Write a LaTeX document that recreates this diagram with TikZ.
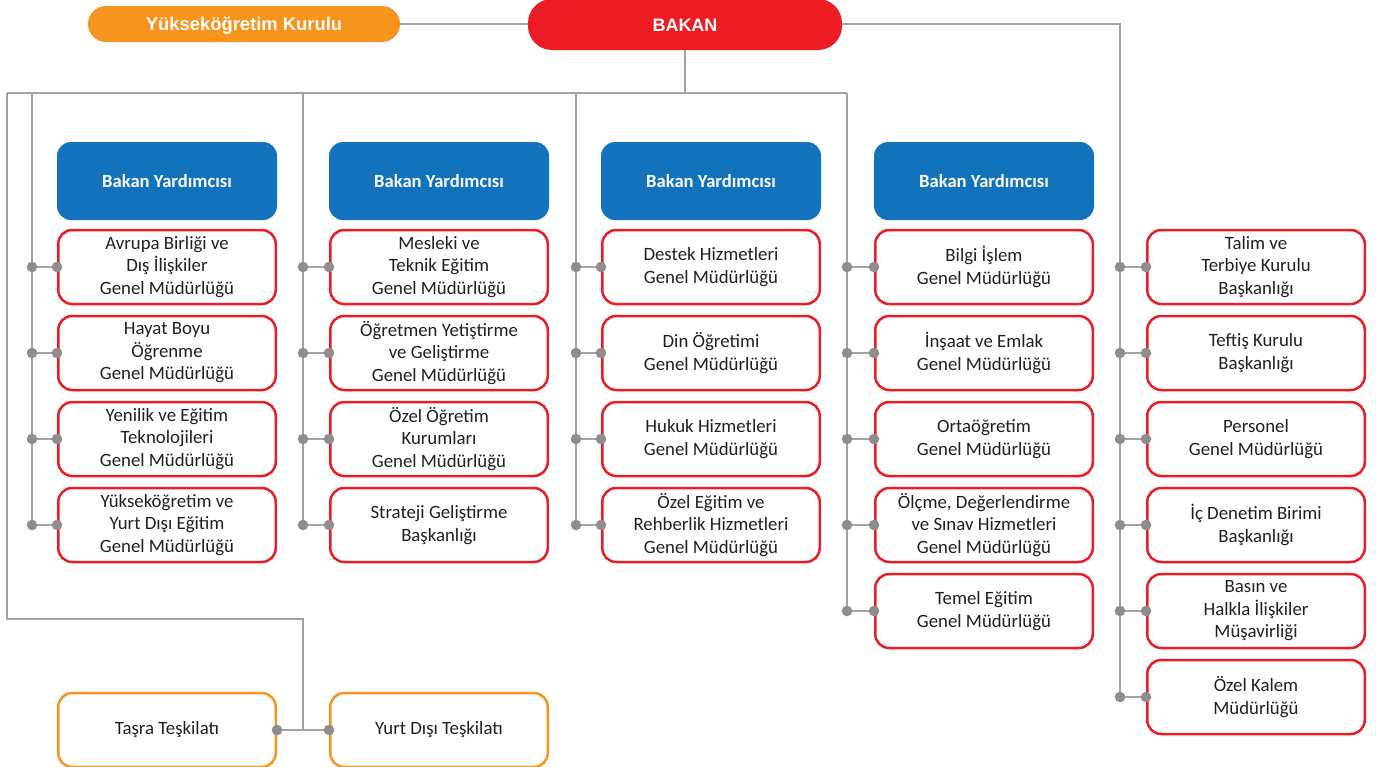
\documentclass[tikz,border=0pt]{standalone}
\usepackage{fontspec}
\setmainfont{Carlito}
\newfontfamily\arialbold[BoldFont={* Bold}]{Liberation Sans}
\definecolor{myred}{HTML}{ED1C24}
\definecolor{myorange}{HTML}{F7941D}
\definecolor{myblue}{HTML}{1273BC}
\definecolor{linec}{HTML}{A3A3A3}
\definecolor{dotc}{HTML}{8E8E8F}
\definecolor{txt}{HTML}{231F20}
\tikzset{
  conn/.style={draw=linec, line width=1.4pt},
  unit/.style={draw=myred, line width=2.5pt, rounded corners=14pt, minimum width=217.5pt, minimum height=74pt, inner sep=0pt, align=center, text=txt, font=\fontsize{18.8}{22.5}\selectfont},
  prov/.style={unit, draw=myorange},
  vice/.style={fill=myblue, rounded corners=14pt, minimum width=220pt, minimum height=78pt, inner sep=0pt, text=white, text height=17.4pt, text depth=4pt, font=\fontsize{18.6}{22}\selectfont\bfseries},
  pill/.style={rounded corners=#1, inner sep=0pt, text=white},
  dot/.style={fill=dotc},
}
\begin{document}
\begin{tikzpicture}[x=1pt,y=-1pt]
\clip (0,0) rectangle (1376,766);
\fill[white] (0,0) rectangle (1376,766);
% top
\node[pill=18pt, fill=myorange, minimum width=312pt, minimum height=36pt, text height=17pt, text depth=4pt, font=\arialbold\fontsize{18.4}{22}\selectfont\bfseries] (yok) at (244,24) {Yükseköğretim Kurulu};
\node[pill=24pt, fill=myred, minimum width=314pt, minimum height=51pt, text height=18pt, text depth=4pt, font=\arialbold\fontsize{18}{22}\selectfont\bfseries] (bakan) at (685,24.5) {BAKAN};
% vice ministers
\foreach \i/\x in {1/167,2/439,3/711,4/984}{
  \node[vice] (v\i) at (\x,181) {Bakan Yardımcısı};
}
% units column 1
\node[unit] (a1) at (167,267) {Avrupa Birliği ve\\Dış İlişkiler\\Genel Müdürlüğü};
\node[unit] (a2) at (167,353) {Hayat Boyu\\Öğrenme\\Genel Müdürlüğü};
\node[unit] (a3) at (167,439) {Yenilik ve Eğitim\\Teknolojileri\\Genel Müdürlüğü};
\node[unit] (a4) at (167,525) {Yükseköğretim ve\\Yurt Dışı Eğitim\\Genel Müdürlüğü};
% column 2
\node[unit] (b1) at (439,267) {Mesleki ve\\Teknik Eğitim\\Genel Müdürlüğü};
\node[unit] (b2) at (439,353) {Öğretmen Yetiştirme\\ve Geliştirme\\Genel Müdürlüğü};
\node[unit] (b3) at (439,439) {Özel Öğretim\\Kurumları\\Genel Müdürlüğü};
\node[unit] (b4) at (439,525) {Strateji Geliştirme\\Başkanlığı};
% column 3
\node[unit] (c1) at (711,267) {Destek Hizmetleri\\Genel Müdürlüğü};
\node[unit] (c2) at (711,353) {Din Öğretimi\\Genel Müdürlüğü};
\node[unit] (c3) at (711,439) {Hukuk Hizmetleri\\Genel Müdürlüğü};
\node[unit] (c4) at (711,525) {Özel Eğitim ve\\Rehberlik Hizmetleri\\Genel Müdürlüğü};
% column 4
\node[unit] (d1) at (984,267) {Bilgi İşlem\\Genel Müdürlüğü};
\node[unit] (d2) at (984,353) {İnşaat ve Emlak\\Genel Müdürlüğü};
\node[unit] (d3) at (984,439) {Ortaöğretim\\Genel Müdürlüğü};
\node[unit] (d4) at (984,525) {Ölçme, Değerlendirme\\ve Sınav Hizmetleri\\Genel Müdürlüğü};
\node[unit] (d5) at (984,611) {Temel Eğitim\\Genel Müdürlüğü};
% column 5
\node[unit] (e1) at (1256,267) {Talim ve\\Terbiye Kurulu\\Başkanlığı};
\node[unit] (e2) at (1256,353) {Teftiş Kurulu\\Başkanlığı};
\node[unit] (e3) at (1256,439) {Personel\\Genel Müdürlüğü};
\node[unit] (e4) at (1256,525) {İç Denetim Birimi\\Başkanlığı};
\node[unit] (e5) at (1256,611) {Basın ve\\Halkla İlişkiler\\Müşavirliği};
\node[unit] (e6) at (1256,697) {Özel Kalem\\Müdürlüğü};
% provincial
\node[prov] (p1) at (167,730) {Taşra Teşkilatı};
\node[prov] (p2) at (439,730) {Yurt Dışı Teşkilatı};
% coordinates for the trunk
\coordinate (hub) at (685,93);
\coordinate (hl) at (7,93);
\coordinate (hr) at (847,93);
\coordinate (k1) at (32,93);
\coordinate (k2) at (303,93);
\coordinate (k3) at (576,93);
\coordinate (rc) at (1120,24);
\coordinate (lb) at (7,619);
\coordinate (lc) at (303,619);
\coordinate (pj) at (303,730);
% connectors
\draw[conn] (yok.east) -- (bakan.west |- yok.east);
\draw[conn] (bakan.east |- rc) -- (rc) -- (1120,697);
\draw[conn] (bakan.south) -- (hub);
\draw[conn] (hl) -- (hr);
\draw[conn] (hl) -- (lb) -- (lc) -- (pj);
\draw[conn] (k1) -- (32,525);
\draw[conn] (k2) -- (303,525);
\draw[conn] (k3) -- (576,525);
\draw[conn] (hr) -- (847,611);
\draw[conn] (p1.east) -- (p2.west);
\foreach \n/\x in {a1/32,a2/32,a3/32,a4/32,b1/303,b2/303,b3/303,b4/303,c1/576,c2/576,c3/576,c4/576,d1/847,d2/847,d3/847,d4/847,d5/847,e1/1120,e2/1120,e3/1120,e4/1120,e5/1120,e6/1120}{
  \coordinate (s-\n) at (\n.west -| \x,0);
  \draw[conn] (s-\n) -- (\n.west);
  \fill[dot] (s-\n) circle (5.3pt);
  \fill[dot] (\n.west) circle (5.3pt);
}
\fill[dot] (p1.east) circle (5.3pt);
\fill[dot] (p2.west) circle (5.3pt);
\end{tikzpicture}
\end{document}
